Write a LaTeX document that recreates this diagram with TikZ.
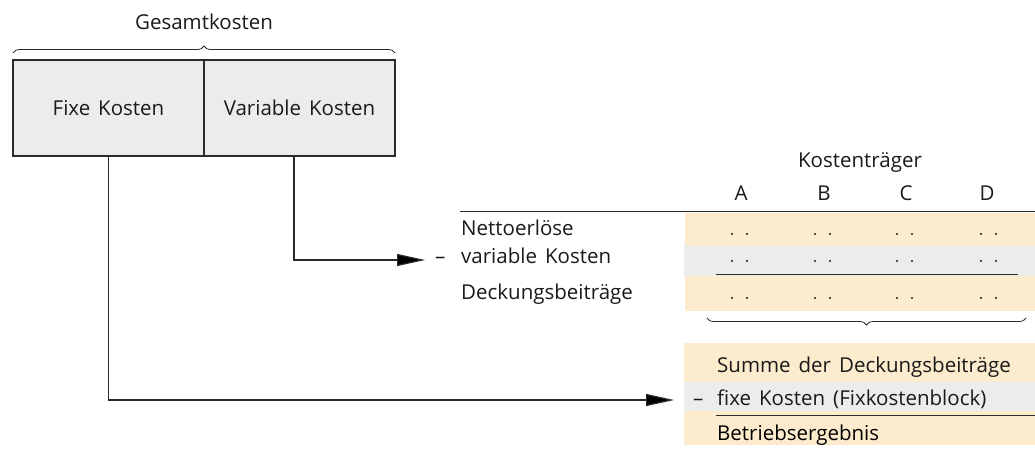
\documentclass[tikz,border=0pt]{standalone}
\usepackage{fontspec}
\setmainfont{Open Sans}[WordSpace=1.5]
\usetikzlibrary{arrows.meta,decorations.pathreplacing}
\definecolor{txt}{HTML}{1A1A1A}
\definecolor{ln}{HTML}{2A2A2A}
\definecolor{boxgray}{HTML}{EBECEC}
\definecolor{rowor}{HTML}{FCEBCC}
\definecolor{rowgr}{HTML}{EBECEC}
\begin{document}
\begin{tikzpicture}[x=1pt,y=-1pt,
  every node/.style={font=\fontsize{20.5}{24}\selectfont, text=txt, inner sep=0pt},
  costbox/.style={draw=ln, line width=1.2pt, fill=boxgray, minimum width=191pt, minimum height=96pt},
  lbl/.style={anchor=base west},
  ctr/.style={anchor=base},
  conn/.style={draw=ln, line width=1.2pt, -{Triangle[length=28pt,width=12pt,fill=black]}},
  rule/.style={draw=ln, line width=1.4pt},
  bracestyle/.style={draw=ln, line width=0.8pt, decorate, decoration={brace, amplitude=7pt}},
  dotpair/.style={fill=txt}
]
\useasboundingbox (0,0) rectangle (1035,453);

% cost boxes
\node[costbox] (fix) at (108.5,108) {Fixe Kosten};
\node[costbox] (var) at (299.5,108) {Variable Kosten};
\draw[bracestyle] (13,53) -- (395,53);
\node[ctr] (ges) at (204,29) {Gesamtkosten};

% table backgrounds
\fill[rowor] (685,213) rectangle (1035,246);
\fill[rowgr] (684,246) rectangle (1035,276);
\fill[rowor] (685,276) rectangle (1035,311);
\fill[rowor] (684,343) rectangle (1035,445);
\fill[rowgr] (684,382) rectangle (1035,411);

% header
\node[ctr] (kt) at (860,167) {Kostenträger};
\node[ctr] (ca) at (741,200) {A};
\node[ctr] (cb) at (824,200) {B};
\node[ctr] (cc) at (906,200) {C};
\node[ctr] (cd) at (987,200) {D};
\draw[rule] (460,211.5) -- (1035,211.5);

% row labels
\node[lbl] (netto) at (461,235) {Nettoerlöse};
\node[lbl] (minus1) at (435,263) {–};
\node[lbl] (varko) at (461,263) {variable Kosten};
\node[lbl] (db) at (461,299) {Deckungsbeiträge};
\draw[rule] (716,274.5) -- (1018,274.5);

% dots
\foreach \cx in {740,823,905,989}{
  \foreach \ry in {234,261,298}{
    \fill[dotpair] (\cx-8,\ry) circle (1.1pt);
    \fill[dotpair] (\cx+7,\ry) circle (1.1pt);
  }
}
\draw[bracestyle] (1026,318) -- (707,318);

% bottom block
\node[lbl] (summe) at (717,372) {Summe der Deckungsbeiträge};
\node[lbl] (minus2) at (693,405) {–};
\node[lbl] (fixk) at (717,405) {fixe Kosten (Fixkostenblock)};
\node[lbl, text=black] (be) at (717,440) {Betriebsergebnis};
\draw[rule] (716,415.5) -- (1035,415.5);

% connectors
\coordinate (tipv) at (425,260);
\coordinate (tipf) at (674,400);
\draw[conn] ([xshift=-5.5pt]var.south) |- (tipv);
\draw[conn] (fix.south) |- (tipf);
\end{tikzpicture}
\end{document}
